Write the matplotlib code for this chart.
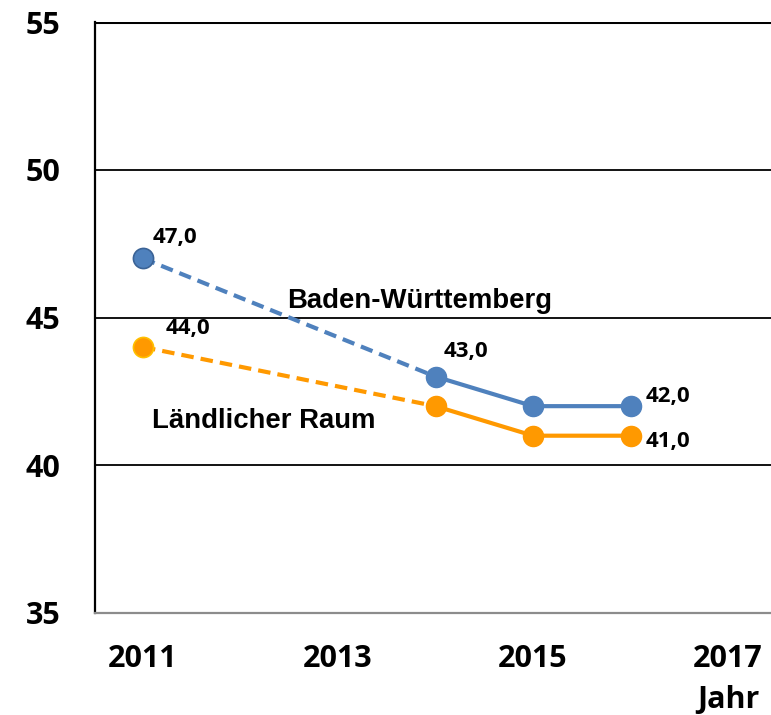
import matplotlib
matplotlib.use("Agg")
import matplotlib.pyplot as plt

years = [2011, 2014, 2015, 2016]
bw = [47.0, 43.0, 42.0, 42.0]
lr = [44.0, 42.0, 41.0, 41.0]
xticks = [2011, 2013, 2015, 2017]
yticks = [35, 40, 45, 50, 55]
bw_name = "Baden-Württemberg"
lr_name = "Ländlicher Raum"
xlabel = "Jahr"

BLUE = "#4F81BD"
BLUE_EDGE = "#3B6396"
ORANGE = "#FF9900"
ORANGE_EDGE = "#FFC000"

fig = plt.figure(figsize=(7.71, 7.15), dpi=100)
W, H = 771, 715
left, right, top, bottom = 95, 771, 22, 613
ax = fig.add_axes([left / W, 1 - bottom / H, (right - left) / W, (bottom - top) / H])
pxyear = 97.5
ax.set_xlim(2011 - 48 / pxyear, 2011 - 48 / pxyear + (right - left) / pxyear)
ax.set_ylim(35, 55)

for v in yticks[1:-1]:
    ax.axhline(v, color="black", lw=1.3, zorder=1)
ax.axhline(yticks[-1], color="black", lw=2.2, zorder=1)

for s in ["top", "right"]:
    ax.spines[s].set_visible(False)
ax.spines["left"].set_color("black")
ax.spines["left"].set_linewidth(1.6)
ax.spines["bottom"].set_color("#8c8c8c")
ax.spines["bottom"].set_linewidth(1.6)

lw = 3
dash = (3.0, 1.7)
ax.plot(years[:2], bw[:2], color=BLUE, lw=lw, dashes=dash, zorder=3)
ax.plot(years[:2], lr[:2], color=ORANGE, lw=lw, dashes=dash, zorder=3)
ax.plot(years[1:], bw[1:], color=BLUE, lw=lw, zorder=3)
ax.plot(years[1:], lr[1:], color=ORANGE, lw=lw, zorder=3)
ms = 14.5
ax.plot(years[:1], bw[:1], "o", ms=ms, color=BLUE, mec=BLUE_EDGE, mew=1.2, zorder=4)
ax.plot(years[1:], bw[1:], "o", ms=ms, color=BLUE, mec=BLUE, zorder=4)
ax.plot(years[:1], lr[:1], "o", ms=ms, color=ORANGE, mec=ORANGE_EDGE, mew=1.2, zorder=4)
ax.plot(years[1:], lr[1:], "o", ms=ms, color=ORANGE, mec=ORANGE, zorder=4)

lab_font = dict(family=["Open Sans", "DejaVu Sans"], fontweight="bold", fontsize=16)

def fmt(v):
    return f"{v:.1f}".replace(".", ",")

offsets_bw = {0: (23, 15), 1: (22, 18), 3: (27, 7)}
offsets_lr = {0: (32, 13), 3: (27, -4)}
for i, off in offsets_bw.items():
    ax.annotate(fmt(bw[i]), (years[i], bw[i]), xytext=off, textcoords="offset points",
                ha="center", va="center", **lab_font, zorder=5)
for i, off in offsets_lr.items():
    ax.annotate(fmt(lr[i]), (years[i], lr[i]), xytext=off, textcoords="offset points",
                ha="center", va="center", **lab_font, zorder=5)

ser_font = dict(family=["Liberation Sans", "DejaVu Sans"], fontweight="bold", fontsize=19.8)
ax.text(2013.84, 45.56, bw_name, ha="center", va="center", **ser_font, zorder=5)
ax.text(2012.24, 41.5, lr_name, ha="center", va="center", **ser_font, zorder=5)

ax.set_xticks(xticks)
ax.set_yticks(yticks)
tick_font = dict(family=["Open Sans", "DejaVu Sans"], fontweight="bold", fontsize=22)
ax.set_xticklabels([str(t) for t in xticks], **tick_font)
ax.set_yticklabels([str(t) for t in yticks], **tick_font)
ax.tick_params(axis="both", length=0)
ax.tick_params(axis="y", pad=25)
ax.tick_params(axis="x", pad=22)

ax.text(2017, -0.148, xlabel, transform=ax.get_xaxis_transform(), ha="center", va="center",
        **tick_font)

fig.savefig("out.png", dpi=100)
